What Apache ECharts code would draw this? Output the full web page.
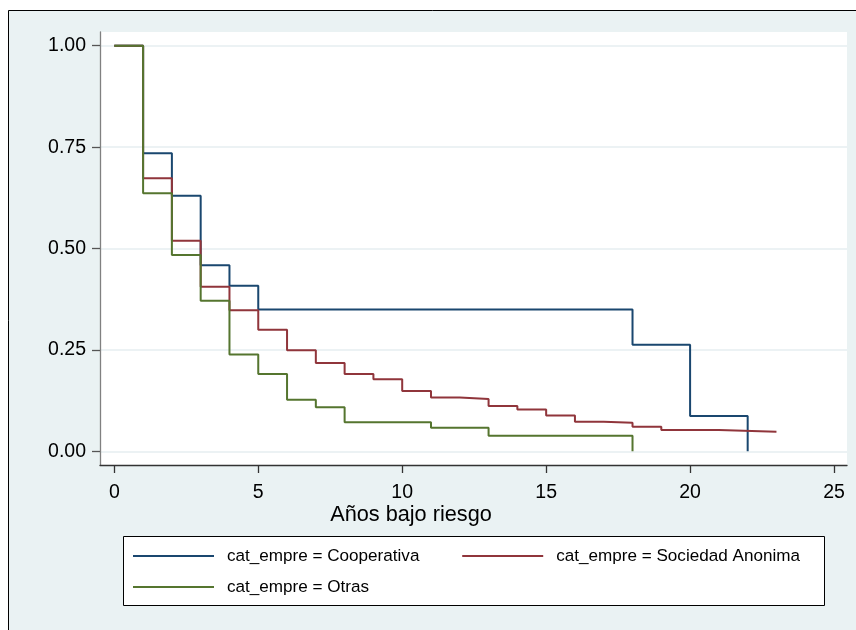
<!DOCTYPE html>
<html>
<head>
<meta charset="utf-8">
<script src="https://cdn.jsdelivr.net/npm/echarts@6/dist/echarts.min.js"></script>
<style>html,body{margin:0;padding:0;background:#ffffff;}#chart{width:856px;height:630px;}</style>
</head>
<body>
<div id="chart"></div>
<script>
// ---- data (Kaplan-Meier survival estimates) ----
const seriesNames = ['cat_empre = Cooperativa', 'cat_empre = Sociedad Anonima', 'cat_empre = Otras'];

const coopTimes  = [0, 1, 2, 3, 4, 5, 18, 20, 22];
const coopValues = [1.000, 0.735, 0.630, 0.459, 0.408, 0.350, 0.263, 0.087, 0.000];

const saTimes  = [0, 1, 2, 3, 4, 5, 6, 7, 8, 9, 10, 11, 12, 13, 14, 15, 16, 17, 18, 19, 21, 23];
const saValues = [1.000, 0.673, 0.519, 0.406, 0.348, 0.300, 0.249, 0.218, 0.191, 0.1775, 0.149, 0.133, 0.129, 0.112, 0.1035, 0.0887, 0.073, 0.0706, 0.0607, 0.0525, 0.0484, 0.0484];

const otrasTimes  = [0, 1, 2, 3, 4, 5, 6, 7, 8, 11, 13, 18];
const otrasValues = [1.000, 0.636, 0.484, 0.371, 0.239, 0.191, 0.127, 0.109, 0.0715, 0.058, 0.0385, 0.000];

const xTicks = [0, 5, 10, 15, 20, 25];
const yTicks = [0, 0.25, 0.50, 0.75, 1.00];
const xTitle = 'Años bajo riesgo';

// ---- build ----
function zip(t, v) { return t.map((x, i) => [x, v[i]]); }
const FONT = '"Liberation Sans", Arial, sans-serif';
const colors = ['#1a476f', '#90353b', '#55752f'];

const chart = echarts.init(document.getElementById('chart'), null, { renderer: 'canvas' });
const series = [zip(coopTimes, coopValues), zip(saTimes, saValues), zip(otrasTimes, otrasValues)].map((d, i) => ({
  name: seriesNames[i],
  type: 'line',
  step: 'end',
  data: d,
  showSymbol: false,
  symbol: 'none',
  lineStyle: { color: colors[i], width: 2 },
  itemStyle: { color: colors[i] },
  z: 3 + i
}));

const option = {
  animation: false,
  backgroundColor: '#ffffff',
  textStyle: { fontFamily: FONT },
  graphic: [
    { type: 'rect', z: -10, silent: true, shape: { x: 8.5, y: 10.5, width: 900, height: 700 },
      style: { fill: '#eaf2f3', stroke: '#000000', lineWidth: 1 } },
    { type: 'rect', z: 1, silent: true, shape: { x: 123.5, y: 536.5, width: 701, height: 69 },
      style: { fill: '#ffffff', stroke: '#000000', lineWidth: 1 } },
    { type: 'text', z: 2, silent: true, x: 411, y: 515.5,
      style: { text: xTitle, font: '21.7px ' + FONT, fill: '#000000', align: 'center', verticalAlign: 'middle' } }
  ],
  grid: { left: 100, top: 32, right: 9, bottom: 165, show: true, backgroundColor: '#ffffff', borderWidth: 0 },
  xAxis: {
    type: 'value', min: -0.497, max: 25.45,
    axisLine: { show: true, onZero: false, lineStyle: { color: '#333333', width: 1.3 } },
    axisTick: { show: true, length: 8, customValues: xTicks, lineStyle: { color: '#333333', width: 1.3 } },
    axisLabel: { customValues: xTicks, margin: 18, fontSize: 19.5, color: '#000000', fontFamily: FONT },
    splitLine: { show: false }
  },
  yAxis: {
    type: 'value', min: -0.0336, max: 1.0338,
    axisLine: { show: true, onZero: false, lineStyle: { color: '#808080', width: 1.3 } },
    axisTick: { show: true, length: 8, customValues: yTicks, lineStyle: { color: '#555555', width: 1.3 } },
    axisLabel: { customValues: yTicks, margin: 14, fontSize: 19.5, color: '#000000', fontFamily: FONT,
      formatter: v => v.toFixed(2) },
    splitLine: { show: true, lineStyle: { color: '#e6eef0', width: 1.6 } }
  },
  legend: [
    { data: [seriesNames[0], seriesNames[1]], left: 133, top: 546, padding: 0, itemGap: 42.8,
      itemWidth: 81, itemHeight: 2, icon: 'rect', orient: 'horizontal', z: 5,
      textStyle: { fontSize: 17.1, color: '#000000', fontFamily: FONT, padding: [0, 0, 0, 8], lineHeight: 20 } },
    { data: [seriesNames[2]], left: 133, top: 577, padding: 0, itemGap: 42.8,
      itemWidth: 81, itemHeight: 2, icon: 'rect', orient: 'horizontal', z: 5,
      textStyle: { fontSize: 17.1, color: '#000000', fontFamily: FONT, padding: [0, 0, 0, 8], lineHeight: 20 } }
  ],
  series: series
};
chart.setOption(option);
</script>
</body>
</html>
